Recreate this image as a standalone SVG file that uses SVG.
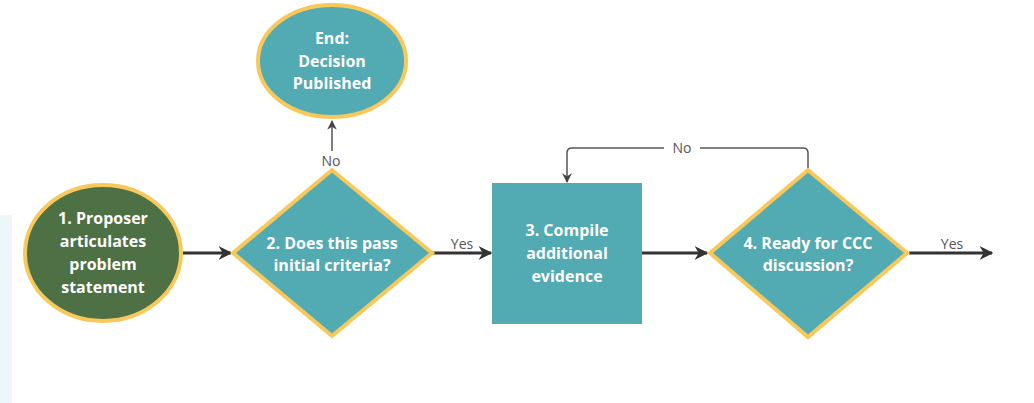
<svg xmlns="http://www.w3.org/2000/svg" width="1034" height="403" viewBox="0 0 1034 403">
  <defs>
    <marker id="arrow" viewBox="0 0 10 10" refX="9" refY="5" markerWidth="4.6" markerHeight="4.6" orient="auto" markerUnits="strokeWidth">
      <path d="M0,0 L10,5 L0,10 L3,5 Z" fill="#333333"/>
    </marker>
    <marker id="arrow-thin" viewBox="0 0 10 10" refX="9" refY="5" markerWidth="6.5" markerHeight="6.5" orient="auto" markerUnits="strokeWidth">
      <path d="M0,0 L10,5 L0,10 L3,5 Z" fill="#444444"/>
    </marker>
  </defs>
  <style>
    .node-text { font-family: "Open Sans", "Noto Sans", "Liberation Sans", sans-serif; font-weight: 700; font-size: 16px; fill: #FFFFFF; text-anchor: middle; }
    .label { font-family: "Open Sans", "Noto Sans", "Liberation Sans", sans-serif; font-size: 14px; fill: #555555; text-anchor: middle; }
    .teal { fill: #52AAB3; }
    .outlined { stroke: #F8C95A; stroke-width: 4; }
    .flow { fill: none; stroke: #333333; stroke-width: 3; }
    .loop { fill: none; stroke: #555555; stroke-width: 1.5; }
  </style>

  <rect width="1034" height="403" fill="#FFFFFF"/>
  <!-- pale side panel -->
  <rect x="0" y="215" width="12" height="188" fill="#EDF6F8"/>

  <g id="connectors">
    <line class="flow" x1="183" y1="253" x2="231" y2="253" marker-end="url(#arrow)"/>
    <line class="flow" x1="433" y1="253" x2="491" y2="253" marker-end="url(#arrow)"/>
    <line class="flow" x1="642" y1="253" x2="707" y2="253" marker-end="url(#arrow)"/>
    <line class="flow" x1="909" y1="253" x2="992" y2="253" marker-end="url(#arrow)"/>
    <line class="loop" x1="332" y1="151" x2="332" y2="121" marker-end="url(#arrow-thin)"/>
    <path class="loop" d="M808,168 L808,153 Q808,148 803,148 L700,148 M664,148 L572,148 Q567,148 567,153 L567,182" marker-end="url(#arrow-thin)"/>
    <text class="label" x="331" y="166">No</text>
    <text class="label" x="682" y="153">No</text>
    <text class="label" x="462" y="249">Yes</text>
    <text class="label" x="952" y="249">Yes</text>
  </g>

  <g id="node-proposer">
    <ellipse cx="103" cy="253" rx="78" ry="68" fill="#4D7145" class="outlined"/>
    <text class="node-text" x="103" y="224">1. Proposer</text>
    <text class="node-text" x="103" y="247">articulates</text>
    <text class="node-text" x="103" y="270">problem</text>
    <text class="node-text" x="103" y="293">statement</text>
  </g>

  <g id="node-end">
    <ellipse cx="332" cy="61" rx="74" ry="56" class="teal outlined"/>
    <text class="node-text" x="332" y="44">End:</text>
    <text class="node-text" x="332" y="67">Decision</text>
    <text class="node-text" x="332" y="89">Published</text>
  </g>

  <g id="node-criteria">
    <polygon points="332,170 432,253 332,336 233,253" class="teal outlined"/>
    <text class="node-text" x="332" y="249">2. Does this pass</text>
    <text class="node-text" x="332" y="271">initial criteria?</text>
  </g>

  <g id="node-evidence">
    <rect x="492" y="183" width="150" height="141" class="teal"/>
    <text class="node-text" x="567" y="236">3. Compile</text>
    <text class="node-text" x="567" y="259">additional</text>
    <text class="node-text" x="567" y="282">evidence</text>
  </g>

  <g id="node-ready">
    <polygon points="808,170 907,253 808,337 710,253" class="teal outlined"/>
    <text class="node-text" x="808" y="249">4. Ready for CCC</text>
    <text class="node-text" x="808" y="271">discussion?</text>
  </g>
</svg>
